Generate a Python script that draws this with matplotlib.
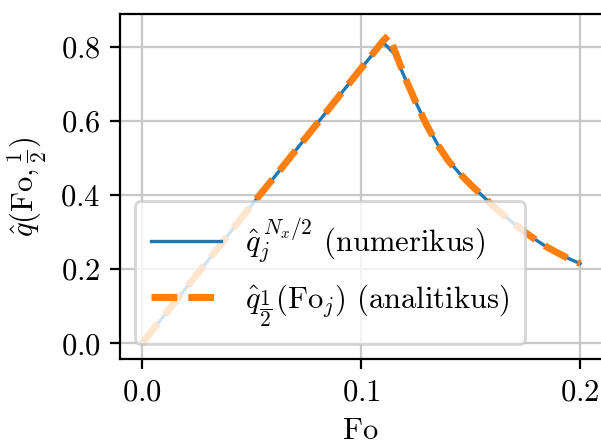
import matplotlib
matplotlib.use("Agg")
import matplotlib.pyplot as plt

# heat flux at the slab midpoint vs Fourier number
fo_num = [0.000, 0.005, 0.010, 0.015, 0.020, 0.025, 0.030, 0.035, 0.040, 0.045,
          0.050, 0.055, 0.060, 0.065, 0.070, 0.075, 0.080, 0.085, 0.090, 0.095,
          0.100, 0.105, 0.110, 0.115, 0.120, 0.125, 0.130, 0.135, 0.140, 0.145,
          0.150, 0.155, 0.160, 0.165, 0.170, 0.175, 0.180, 0.185, 0.190, 0.195, 0.200]
q_num = [0.000, 0.037, 0.074, 0.111, 0.148, 0.185, 0.222, 0.259, 0.297, 0.335,
         0.372, 0.409, 0.445, 0.482, 0.519, 0.556, 0.593, 0.630, 0.667, 0.704,
         0.741, 0.777, 0.812, 0.782, 0.716, 0.650, 0.589, 0.536, 0.492, 0.458,
         0.428, 0.400, 0.372, 0.346, 0.322, 0.299, 0.278, 0.259, 0.243, 0.228, 0.215]

fo_ana = [0.000, 0.005, 0.010, 0.015, 0.020, 0.025, 0.030, 0.035, 0.040, 0.045,
          0.050, 0.055, 0.060, 0.065, 0.070, 0.075, 0.080, 0.085, 0.090, 0.095,
          0.100, 0.105, 0.110, 0.1125, 0.115, 0.120, 0.125, 0.130, 0.135, 0.140,
          0.145, 0.150, 0.155, 0.160, 0.165, 0.170, 0.175, 0.180, 0.185, 0.190,
          0.195, 0.200]
q_ana = [0.000, 0.037, 0.074, 0.111, 0.148, 0.185, 0.222, 0.259, 0.297, 0.335,
         0.372, 0.409, 0.445, 0.482, 0.519, 0.556, 0.593, 0.630, 0.667, 0.704,
         0.741, 0.778, 0.815, 0.830, 0.795, 0.718, 0.650, 0.588, 0.535, 0.491,
         0.458, 0.428, 0.400, 0.372, 0.346, 0.322, 0.299, 0.278, 0.259, 0.243,
         0.228, 0.215]

x_ticks = [0.0, 0.1, 0.2]
y_ticks = [0.0, 0.2, 0.4, 0.6, 0.8]

plt.rcParams.update({
    "font.family": "serif",
    "font.serif": ["cmr10"],
    "mathtext.fontset": "cm",
    "axes.formatter.use_mathtext": True,
    "font.size": 11,
})

fig = plt.figure(figsize=(3.005, 2.205), dpi=200)
ax = fig.add_axes([0.1997, 0.1853, 0.802, 0.783])

ax.plot(fo_num, q_num, color="C0", lw=1.2, label=r"$\hat{q}_j^{\,N_x/2}$ (numerikus)")
ax.plot(fo_ana, q_ana, "--", color="C1", lw=2.5,
        label=r"$\hat{q}_{\dfrac{1}{2}}(\mathrm{Fo}_j)$ (analitikus)")

ax.set_xlim(-0.01, 0.21)
ax.set_ylim(-0.043, 0.888)
ax.set_xticks(x_ticks)
ax.set_yticks(y_ticks)
ax.set_xlabel("Fo")
ax.set_ylabel(r"$\hat{q}(\mathrm{Fo},\frac{1}{2})$")
ax.grid(True, color="#c8c8c8")
ax.legend(loc="lower left", fontsize=11, handlelength=2.3, labelspacing=0.55,
          borderpad=0.5)

fig.savefig("out.png", dpi=200)
